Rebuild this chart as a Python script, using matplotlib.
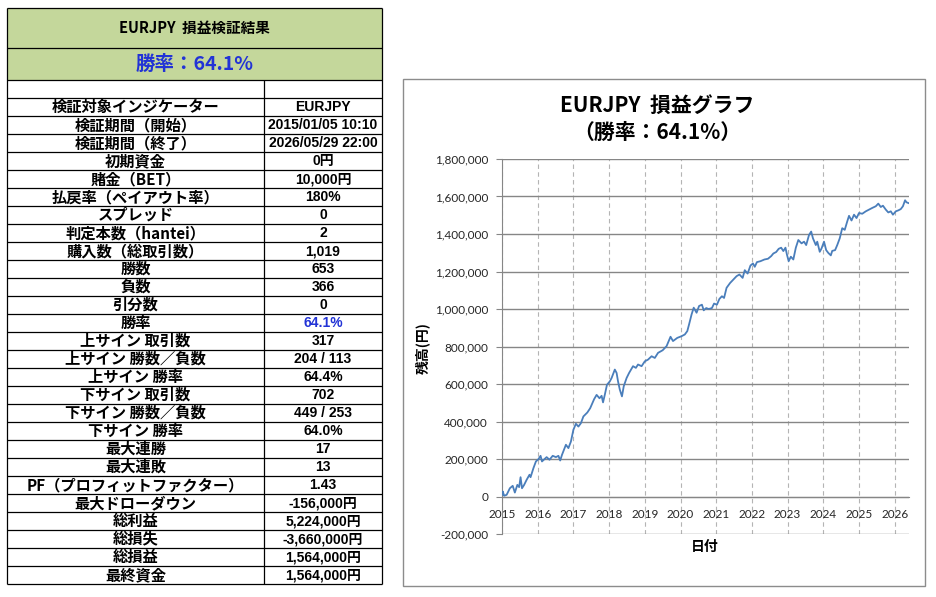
import numpy as np
import matplotlib
matplotlib.use('Agg')
import matplotlib.pyplot as plt
from matplotlib.patches import Rectangle
from matplotlib.ticker import FuncFormatter

JP = ['Noto Sans CJK JP', 'DejaVu Sans']
NUM = ['Liberation Sans', 'Noto Sans CJK JP']
TICK = ['Lato', 'DejaVu Sans']

# summary table
header_title = 'EURJPY  損益検証結果'
header_rate = '勝率：64.1%'
row_labels = ['検証対象インジケーター', '検証期間（開始）', '検証期間（終了）', '初期資金',
              '賭金（BET）', '払戻率（ペイアウト率）', 'スプレッド', '判定本数（hantei）',
              '購入数（総取引数）', '勝数', '負数', '引分数', '勝率',
              '上サイン 取引数', '上サイン 勝数／負数', '上サイン 勝率',
              '下サイン 取引数', '下サイン 勝数／負数', '下サイン 勝率',
              '最大連勝', '最大連敗', 'PF（プロフィットファクター）', '最大ドローダウン',
              '総利益', '総損失', '総損益', '最終資金']
row_values = ['EURJPY', '2015/01/05 10:10', '2026/05/29 22:00', '0円',
              '10,000円', '180%', '0', '2',
              '1,019', '653', '366', '0', '64.1%',
              '317', '204 / 113', '64.4%',
              '702', '449 / 253', '64.0%',
              '17', '13', '1.43', '-156,000円',
              '5,224,000円', '-3,660,000円', '1,564,000円', '1,564,000円']
blue_row = '勝率'

# equity curve (year, balance in thousand yen)
curve_year = [2015.01, 2015.02, 2015.06, 2015.13, 2015.22, 2015.30, 2015.36, 2015.43, 2015.48, 2015.52,
              2015.56, 2015.62, 2015.69, 2015.77, 2015.80, 2015.88, 2015.95, 2016.02, 2016.08, 2016.12,
              2016.19, 2016.25, 2016.33, 2016.42, 2016.51, 2016.58, 2016.63, 2016.68, 2016.74, 2016.79,
              2016.86, 2016.93, 2017.00, 2017.07, 2017.14, 2017.21, 2017.28, 2017.39, 2017.47, 2017.58,
              2017.65, 2017.73, 2017.79, 2017.83, 2017.88, 2017.94, 2018.02, 2018.07, 2018.16, 2018.21,
              2018.25, 2018.30, 2018.36, 2018.41, 2018.49, 2018.56, 2018.67, 2018.75, 2018.81, 2018.91,
              2019.00, 2019.09, 2019.19, 2019.28, 2019.37, 2019.50, 2019.61, 2019.72, 2019.79, 2019.91,
              2020.03, 2020.12, 2020.19, 2020.24, 2020.31, 2020.37, 2020.45, 2020.52, 2020.60, 2020.65,
              2020.72, 2020.79, 2020.88, 2020.94, 2021.02, 2021.09, 2021.16, 2021.22, 2021.29, 2021.39,
              2021.48, 2021.57, 2021.65, 2021.74, 2021.80, 2021.88, 2021.96, 2022.03, 2022.08, 2022.14,
              2022.24, 2022.35, 2022.45, 2022.54, 2022.60, 2022.68, 2022.75, 2022.82, 2022.88, 2022.94,
              2022.98, 2023.03, 2023.09, 2023.16, 2023.23, 2023.30, 2023.39, 2023.46, 2023.52, 2023.60,
              2023.66, 2023.71, 2023.79, 2023.83, 2023.90, 2023.95, 2024.02, 2024.08, 2024.14, 2024.21,
              2024.25, 2024.33, 2024.39, 2024.46, 2024.53, 2024.60, 2024.67, 2024.72, 2024.79, 2024.86,
              2024.93, 2025.00, 2025.09, 2025.19, 2025.28, 2025.37, 2025.47, 2025.54, 2025.61, 2025.67,
              2025.75, 2025.82, 2025.89, 2025.95, 2026.03, 2026.10, 2026.17, 2026.23, 2026.29, 2026.33,
              2026.40]
curve_balance_k = [10, 27, 4, 9, 44, 57, 21, 62, 50, 103,
                   44, 62, 89, 116, 103, 151, 187, 199, 217, 187,
                   199, 210, 196, 217, 210, 217, 192, 222, 252, 276,
                   258, 293, 356, 388, 373, 391, 427, 448, 471, 519,
                   542, 524, 537, 502, 543, 596, 614, 632, 677, 659,
                   614, 570, 534, 588, 632, 659, 695, 686, 704, 695,
                   721, 730, 748, 739, 766, 780, 802, 852, 829, 846,
                   855, 864, 882, 918, 971, 1007, 980, 1016, 1023, 993,
                   1005, 1000, 1005, 1029, 1023, 1054, 1068, 1059, 1113, 1139,
                   1157, 1175, 1184, 1166, 1207, 1189, 1232, 1243, 1225, 1250,
                   1255, 1264, 1268, 1282, 1296, 1304, 1321, 1327, 1309, 1327,
                   1291, 1255, 1279, 1264, 1327, 1368, 1350, 1359, 1341, 1395,
                   1413, 1377, 1341, 1359, 1305, 1323, 1359, 1314, 1299, 1286,
                   1310, 1314, 1341, 1377, 1431, 1422, 1467, 1497, 1472, 1503,
                   1485, 1512, 1508, 1521, 1530, 1539, 1548, 1562, 1544, 1551,
                   1530, 1515, 1521, 1503, 1521, 1526, 1533, 1548, 1580, 1569,
                   1564]
tick_years = [2015, 2016, 2017, 2018, 2019, 2020, 2021, 2022, 2023, 2024, 2025, 2026]
chart_title = 'EURJPY  損益グラフ'
chart_subtitle = '（勝率：64.1%）'
y_label = '残高(円)'
x_label = '日付'

W, H = 937, 597


def px_axes(fig, l, t, r, b):
    return fig.add_axes([l / W, 1 - b / H, (r - l) / W, (b - t) / H])


fig = plt.figure(figsize=(W / 100, H / 100), dpi=100, facecolor='white')

# background layer in pixel coordinates
bg = fig.add_axes([0, 0, 1, 1])
bg.set_xlim(0, W)
bg.set_ylim(H, 0)
bg.axis('off')

# --- table ---
tl, tr, tm = 7, 382, 264
top, h1, h2, blank, row_h = 8, 48, 80, 98, 18
bottom = blank + row_h * len(row_labels)
green = '#C4D79B'
blue = '#2233D6'

bg.add_patch(Rectangle((tl, top), tr - tl, h2 - top, facecolor=green, edgecolor='none'))
ys = [top, h1, h2, blank] + [blank + row_h * (i + 1) for i in range(len(row_labels))]
bg.hlines(ys, tl, tr, color='black', lw=0.9)
bg.vlines([tl, tr], top, bottom, color='black', lw=0.9)
bg.vlines([tm], h2, bottom, color='black', lw=0.9)

bg.text((tl + tr) / 2, (top + h1) / 2, header_title, family=JP, weight='bold',
        fontsize=10.5, ha='center', va='center')
bg.text((tl + tr) / 2, (h1 + h2) / 2, header_rate, family=JP, weight='bold',
        fontsize=14, ha='center', va='center', color=blue)

for i, (lab, val) in enumerate(zip(row_labels, row_values)):
    yc = blank + row_h * i + row_h / 2
    bg.text((tl + tm) / 2, yc, lab, family=JP, weight='bold', fontsize=11,
            ha='center', va='center')
    bg.text((tm + tr) / 2, yc, val, family=NUM, weight='bold', fontsize=10,
            ha='center', va='center', color=blue if lab == blue_row else 'black')

# --- chart frame and texts ---
bg.add_patch(Rectangle((403, 79), 925 - 403, 586 - 79, facecolor='white',
                       edgecolor='#8C8C8C', lw=1.0))
bg.text(657, 105, chart_title, family=JP, weight='bold', fontsize=15,
        ha='center', va='center')
bg.text(657, 132, chart_subtitle, family=JP, weight='bold', fontsize=15,
        ha='center', va='center')
bg.text(423, 348, y_label, family=JP, weight='bold', fontsize=10,
        ha='center', va='center', rotation=90)
bg.text(705, 547, x_label, family=JP, weight='bold', fontsize=10,
        ha='center', va='center')

# --- equity curve ---
ax = px_axes(fig, 502, 159, 909, 534)
ax.set_facecolor('none')
balance = np.array(curve_balance_k) * 1000
ax.plot(curve_year, balance, color='#4A7EBB', lw=1.3, zorder=3)

ax.set_xlim(2015.0, 2026.40)
ax.set_ylim(-200000, 1800000)
ax.set_yticks(np.arange(-200000, 1800001, 200000))
ax.yaxis.set_major_formatter(FuncFormatter(lambda v, p: f'{v:,.0f}'))
ax.set_xticks(tick_years)
ax.set_xticklabels([str(y) for y in tick_years])

ax.grid(axis='y', color='#868686', lw=1.0, ls='-')
ax.grid(axis='x', color='#B4B4B4', lw=0.8, ls=(0, (4, 3)))
ax.set_axisbelow(True)

ax.spines['top'].set_visible(False)
ax.spines['right'].set_visible(False)
ax.spines['bottom'].set_position(('data', 0))
ax.spines['bottom'].set_color('#868686')
ax.spines['left'].set_color('#868686')

ax.tick_params(axis='y', length=4, width=0.8, color='#868686', pad=6,
               labelsize=8.5, labelcolor='#262626')
ax.tick_params(axis='x', length=0, pad=9, labelsize=8.5, labelcolor='#262626')
for lbl in ax.get_xticklabels() + ax.get_yticklabels():
    lbl.set_fontfamily(TICK)

fig.savefig('out.png', dpi=100)
